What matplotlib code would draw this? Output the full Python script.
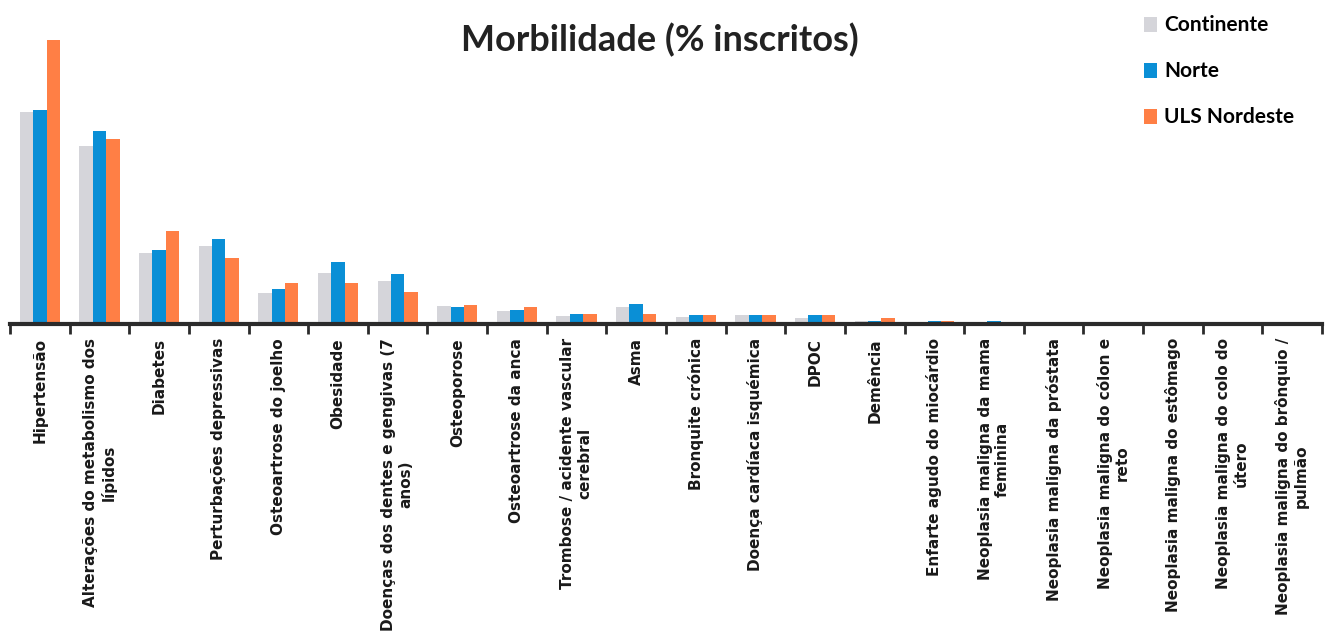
import numpy as np
import matplotlib
matplotlib.use("Agg")
import matplotlib.pyplot as plt

# categories (x axis labels, wrapped as in the original chart)
categorias = [
    "Hipertensão",
    "Alterações do metabolismo dos\nlípidos",
    "Diabetes",
    "Perturbações depressivas",
    "Osteoartrose do joelho",
    "Obesidade",
    "Doenças dos dentes e gengivas (7\nanos)",
    "Osteoporose",
    "Osteoartrose da anca",
    "Trombose / acidente vascular\ncerebral",
    "Asma",
    "Bronquite crónica",
    "Doença cardíaca isquémica",
    "DPOC",
    "Demência",
    "Enfarte agudo do miocárdio",
    "Neoplasia maligna da mama\nfeminina",
    "Neoplasia maligna da próstata",
    "Neoplasia maligna do cólon e\nreto",
    "Neoplasia maligna do estômago",
    "Neoplasia maligna do colo do\nútero",
    "Neoplasia maligna do brônquio /\npulmão",
]

# % inscritos
continente = [21.3, 17.9, 7.1, 7.8, 3.1, 5.1, 4.3, 1.8, 1.3, 0.8, 1.7,
              0.7, 0.9, 0.6, 0.3, 0.2, 0.2, 0.1, 0.1, 0.05, 0.05, 0.05]
norte = [21.5, 19.4, 7.4, 8.5, 3.5, 6.2, 5.0, 1.7, 1.4, 1.0, 2.0,
         0.9, 0.9, 0.9, 0.3, 0.3, 0.3, 0.1, 0.1, 0.05, 0.05, 0.05]
uls_nordeste = [28.5, 18.6, 9.3, 6.6, 4.1, 4.1, 3.2, 1.9, 1.7, 1.0, 1.0,
                0.9, 0.9, 0.9, 0.6, 0.3, 0.1, 0.1, 0.1, 0.05, 0.05, 0.05]

series = ["Continente", "Norte", "ULS Nordeste"]
cores = ["#D5D5DA", "#0A8FD6", "#FF7F45"]

W, H = 1326, 634
fig = plt.figure(figsize=(W / 100, H / 100), dpi=100)
ax = fig.add_axes([10 / W, 1 - 324 / H, 1312 / W, 299 / H])

x = np.arange(len(categorias))
largura = 0.225
for k, (vals, nome, cor) in enumerate(zip([continente, norte, uls_nordeste], series, cores)):
    ax.bar(x + (k - 1) * largura, vals, width=largura, color=cor, label=nome, zorder=2)

ax.set_xlim(-0.5, len(categorias) - 0.5)
ax.set_ylim(0, 30)

# axis: only the bottom line, ticks on category boundaries
for s in ["top", "right", "left"]:
    ax.spines[s].set_visible(False)
ax.spines["bottom"].set_linewidth(3)
ax.spines["bottom"].set_color("#2b2b2b")
ax.set_yticks([])

ax.set_xticks(x)
ax.set_xticklabels(categorias, rotation=90, fontsize=11, fontweight="bold",
                   family="DejaVu Sans", color="#1a1a1a", multialignment="center")
ax.tick_params(axis="x", which="major", length=0, pad=10)
ax.set_xticks(np.arange(-0.5, len(categorias) + 0.5, 1), minor=True)
ax.tick_params(axis="x", which="minor", length=7, width=2, color="#2b2b2b", direction="out")

fig.text(660 / W, 1 - 40 / H, "Morbilidade (% inscritos)", ha="center", va="center",
         fontsize=26, fontweight="bold", family=["Lato", "DejaVu Sans"],
         color="#222222")

fig.legend(loc="upper left", bbox_to_anchor=(1134 / W, 1 - 5 / H), frameon=False,
           prop={"family": ["Lato", "DejaVu Sans"], "weight": "bold", "size": 15},
           handlelength=0.6, handleheight=0.75, handletextpad=0.35, labelspacing=1.25,
           borderpad=0)

fig.savefig("out.png", dpi=100)
